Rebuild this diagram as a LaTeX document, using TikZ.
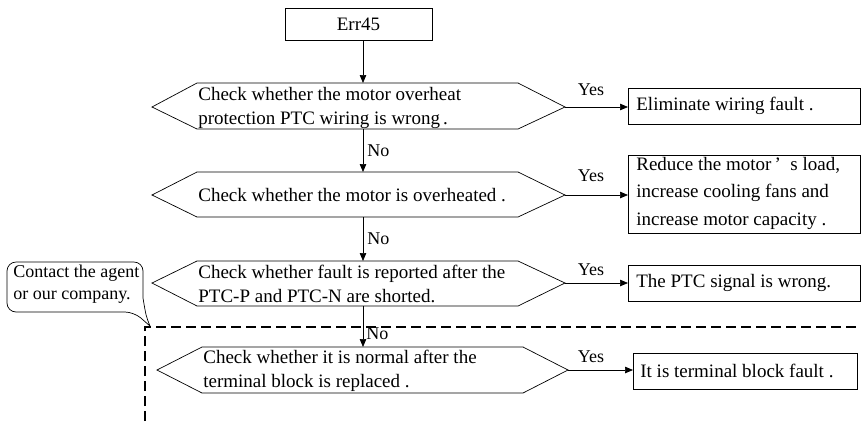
\documentclass[tikz,border=0pt]{standalone}
\usepackage{fontspec}
\setmainfont{Liberation Serif}
\usetikzlibrary{arrows.meta}
\begin{document}
\begin{tikzpicture}[x=1pt,y=-1pt,
  line width=0.7pt,
  txt/.style={inner sep=0pt,font=\fontsize{19}{24}\selectfont,align=left},
  smalltxt/.style={inner sep=0pt,font=\fontsize{18}{22}\selectfont,align=left},
  lbl/.style={inner sep=0pt,font=\fontsize{18}{20}\selectfont},
  arr/.style={-{Triangle[length=8pt,width=6.5pt]}},
  dash line/.style={line width=1.6pt,dash pattern=on 10pt off 5pt}
]
\useasboundingbox (0,0) rectangle (861,421);

% start box
\node[draw,minimum width=147pt,minimum height=32pt,inner sep=0pt,font=\fontsize{19}{22}\selectfont] (err) at (358.5,24) {Err45};

% decision shapes
\draw (152,107) coordinate (d1l) -- (197,83) -- (363,83) coordinate (d1t) -- (518,83) -- (565,107) coordinate (d1r) -- (518,129) -- (363,129) coordinate (d1b) -- (197,129) -- cycle;
\node[txt,anchor=west] (d1) at (198,107.5) {Check whether the motor overheat\\protection PTC wiring is wrong\,.};

\draw (152,195) coordinate (d2l) -- (197,172) -- (363,172) coordinate (d2t) -- (518,172) -- (565,195) coordinate (d2r) -- (518,217) -- (363,217) coordinate (d2b) -- (197,217) -- cycle;
\node[txt,anchor=west] (d2) at (198,195) {Check whether the motor is overheated .};

\draw (152,283) coordinate (d3l) -- (197,261) -- (363,261) coordinate (d3t) -- (518,261) -- (565,283) coordinate (d3r) -- (518,306) -- (363,306) coordinate (d3b) -- (197,306) -- cycle;
\node[txt,anchor=west] (d3) at (198,284) {Check whether fault is reported after the\\PTC-P and PTC-N are shorted.};

\draw (157,370) coordinate (d4l) -- (202,347) -- (363,347) coordinate (d4t) -- (523,347) -- (568,370) coordinate (d4r) -- (523,393) -- (363,393) coordinate (d4b) -- (202,393) -- cycle;
\node[txt,anchor=west] (d4) at (203,370.5) {Check whether it is normal after the\\terminal block is replaced .};

% result boxes
\draw (628,88) rectangle (860,124);
\coordinate (r1) at (628,106);
\node[txt,anchor=west] (r1t) at (636,106) {Eliminate wiring fault .};

\draw (628,155) rectangle (860,233);
\coordinate (r2) at (628,195);
\node[txt,anchor=west,font=\fontsize{19}{27.5}\selectfont] (r2t) at (636,193) {Reduce the motor\,’\ \ s load,\\increase cooling fans and\\increase motor capacity .};

\draw (628,265) rectangle (860,301);
\coordinate (r3) at (628,283);
\node[txt,anchor=west] (r3t) at (636,283) {The PTC signal is wrong.};

\draw (633,353) rectangle (857,389);
\coordinate (r4) at (633,371);
\node[txt,anchor=west] (r4t) at (640,371) {It is terminal block fault .};

% vertical connectors
\draw[arr] (err.south -| d1t) -- (d1t);
\draw[arr] (d1b) -- (d2t) node[lbl,midway,anchor=west,xshift=4pt] {No};
\draw[arr] (d2b) -- (d3t) node[lbl,midway,anchor=west,xshift=4pt] {No};
\draw[arr] (d3b) -- (d4t);
\node[lbl,anchor=west] (no3) at (366,334) {No};

% yes connectors
\draw[arr] (d1r) -- (r1 |- d1r);
\node[lbl] (y1) at (591,90) {Yes};
\draw[arr] (d2r) -- (r2 |- d2r);
\node[lbl] (y2) at (591,176) {Yes};
\draw[arr] (d3r) -- (r3 |- d3r);
\node[lbl] (y3) at (591,270) {Yes};
\draw[arr] (d4r) -- (r4 |- d4r);
\node[lbl] (y4) at (591,357) {Yes};

% dashed region
\draw[dash line] (145,421) -- (145,327) coordinate (corner) -- (861,327);

% callout
\draw (143,298) [rounded corners=9pt] -- (143,262) -- (7,262) -- (7,312) -- (134,312) [sharp corners] -- (150,326) .. controls (146,316) .. (143,298);
\node[smalltxt,anchor=west] (callout) at (13,284) {Contact the agent\\or our company.};
\end{tikzpicture}
\end{document}
